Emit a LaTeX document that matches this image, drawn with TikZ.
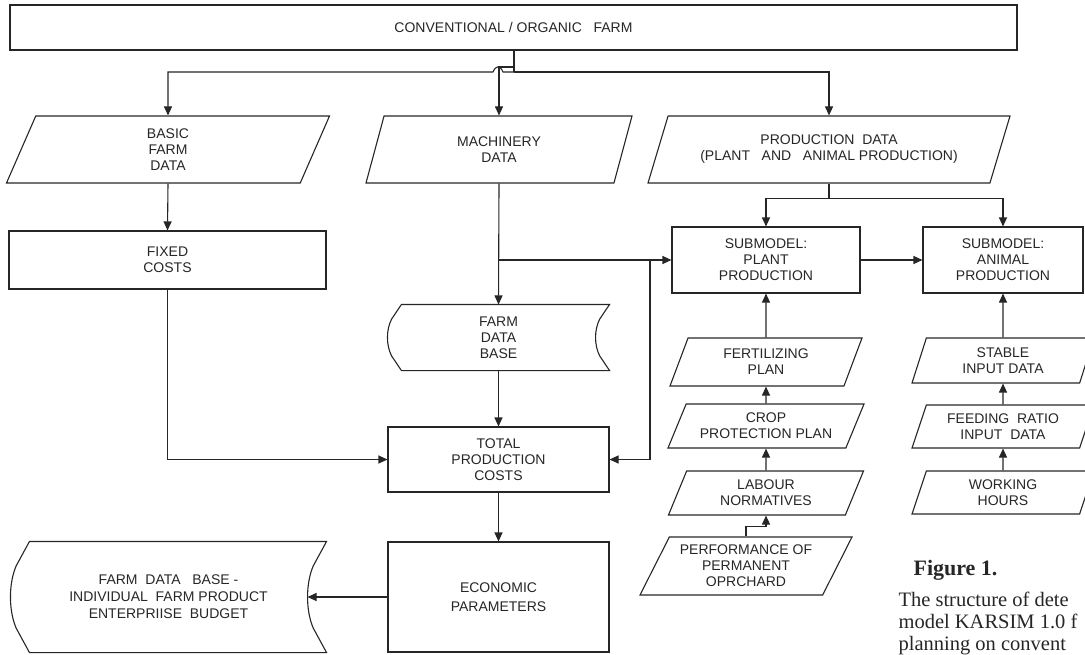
\documentclass[tikz,border=0pt]{standalone}
\usepackage{fontspec}
\setmainfont{Liberation Sans}
\newfontfamily\capfont{Liberation Serif}
\usetikzlibrary{shapes.geometric,arrows.meta,calc}

\tikzset{
  block/.style={draw, rectangle, align=center, inner sep=0pt},
  datain/.style={draw, trapezium, trapezium left angle=55, trapezium right angle=125,
    trapezium stretches body, align=center, inner sep=0pt},
  steep/.style={trapezium left angle=61, trapezium right angle=119},
  store/.style={rectangle, align=center, inner sep=0pt},
  arr/.style={-{Triangle[length=9pt,width=8pt]}},
  capline/.style={anchor=base west, inner sep=0pt, font={\capfont\fontsize{20.5}{24}\selectfont}}
}

% outline of a stored-data node: #1 node, #2 depth of the curved sides
\newcommand\storeoutline[2]{%
  \draw ($(#1.north west)+(#2,0)$) -- (#1.north east)
    -- ($(#1.north east)!.22!(#1.south east)+(-.7*#2,0)$)
    .. controls ($(#1.north east)!.38!(#1.south east)+(-1.1*#2,0)$)
           and ($(#1.north east)!.62!(#1.south east)+(-1.1*#2,0)$)
    .. ($(#1.north east)!.78!(#1.south east)+(-.7*#2,0)$)
    -- (#1.south east) -- ($(#1.south west)+(#2,0)$)
    -- ($(#1.south west)!.22!(#1.north west)+(.3*#2,0)$)
    .. controls ($(#1.south west)!.38!(#1.north west)+(-.1*#2,0)$)
           and ($(#1.south west)!.62!(#1.north west)+(-.1*#2,0)$)
    .. ($(#1.south west)!.78!(#1.north west)+(.3*#2,0)$)
    -- cycle;}

\begin{document}
\begin{tikzpicture}[x=1pt, y=-1pt, line width=1.1pt, color=black!85,
    font=\fontsize{14}{16}\selectfont]
  \useasboundingbox (0,0) rectangle (1085,654);
  \clip (0,0) rectangle (1085,654);

  \node[block, minimum width=1007, minimum height=45] (farm) at (513.5,27.5) {CONVENTIONAL / ORGANIC~~~FARM};

  \node[datain, minimum width=323, minimum height=67] (basic) at (168,149.5) {BASIC\\FARM\\DATA};
  \node[datain, minimum width=266, minimum height=67] (machinery) at (499,149.5) {MACHINERY\\DATA};
  \node[datain, minimum width=362, minimum height=67] (prod) at (829,149.5) {PRODUCTION~~DATA\\(PLANT~~~AND~~~ANIMAL PRODUCTION)};

  \node[block, minimum width=317, minimum height=58] (fixed) at (167.5,260) {FIXED\\COSTS};
  \node[store, minimum width=221, minimum height=65] (fdb) at (498.5,337.5) {FARM\\DATA\\BASE};
  \node[block, minimum width=221, minimum height=65] (total) at (498.5,459.5) {TOTAL\\PRODUCTION\\COSTS};
  \node[block, minimum width=221, minimum height=110] (econ) at (498.5,597) {ECONOMIC\\[3pt]PARAMETERS};
  \node[store, minimum width=315, minimum height=110] (budget) at (168.5,597) {FARM~~DATA~~~BASE -\\[1pt]INDIVIDUAL~~FARM PRODUCT\\[1pt]ENTERPRIISE~~BUDGET};
  \storeoutline{fdb}{14}
  \storeoutline{budget}{19}

  \node[block, minimum width=188, minimum height=66] (plant) at (766,260) {SUBMODEL:\\PLANT\\PRODUCTION};
  \node[block, minimum width=160, minimum height=66] (animal) at (1003,260) {SUBMODEL:\\ANIMAL\\PRODUCTION};

  \node[datain, minimum width=192, minimum height=48] (fert) at (766,362) {FERTILIZING\\PLAN};
  \node[datain, minimum width=196, minimum height=44] (crop) at (766,426) {CROP\\PROTECTION PLAN};
  \node[datain, minimum width=195, minimum height=44] (labour) at (766,493) {LABOUR\\NORMATIVES};
  \node[datain, minimum width=212, minimum height=58] (perf) at (746,566) {PERFORMANCE OF\\PERMANENT\\OPRCHARD};

  \node[datain, steep, minimum width=182, minimum height=45] (stable) at (1003,360.5) {STABLE\\INPUT DATA};
  \node[datain, steep, minimum width=182, minimum height=43] (feeding) at (1003,426.5) {FEEDING~~RATIO\\INPUT~~DATA};
  \node[datain, steep, minimum width=182, minimum height=43] (working) at (1003,492.5) {WORKING\\HOURS};

  \coordinate (split) at (514,72);
  \coordinate (mtap) at (514,67);
  \draw (farm.south -| split) -- (split);
  \draw[arr] (split) -- (503,72) .. controls (500,65) and (496,65) .. (493,72) -| (basic.north);
  \draw[arr] (split) -| (prod.north);
  \draw[arr] (mtap) -| (machinery.north);

  \draw[arr] (basic.south) -- (fixed.north);
  \draw[arr] (fixed.south) |- (total.west);
  \draw[arr] (machinery.south) -- (fdb.north);
  \coordinate (mbr) at (machinery.south |- plant.west);
  \draw[arr] (mbr) -- (plant.west);
  \coordinate (rbr) at (650,260);
  \draw[arr] (rbr) |- (total.east);
  \draw[arr] (fdb.south) -- (total.north);
  \draw[arr] (total.south) -- (econ.north);
  \draw[arr] (econ.west) -- ([xshift=-19pt]budget.east);

  \draw[arr] (prod.south) -- ++(0,15) -| (plant.north);
  \draw[arr] (prod.south) ++(0,15) -| (animal.north);
  \draw[arr] (plant.east) -- (animal.west);

  \draw[arr] (fert.north) -- (plant.south);
  \draw[arr] (crop.north) -- (fert.south);
  \draw[arr] (labour.north) -- (crop.south);
  \draw[arr] (perf.north) -- ++(0,-10) -| (labour.south);

  \draw[arr] (stable.north) -- (animal.south);
  \draw[arr] (feeding.north) -- (stable.south);
  \draw[arr] (working.north) -- (feeding.south);

  \node[capline, font={\capfont\bfseries\fontsize{22}{24}\selectfont}] (fig) at (913,575) {Figure 1.};
  \node[capline] (cap1) at (898,606) {The structure of dete};
  \node[capline] (cap2) at (898,628) {model KARSIM 1.0 f};
  \node[capline] (cap3) at (898,650) {planning on convent};
\end{tikzpicture}
\end{document}
